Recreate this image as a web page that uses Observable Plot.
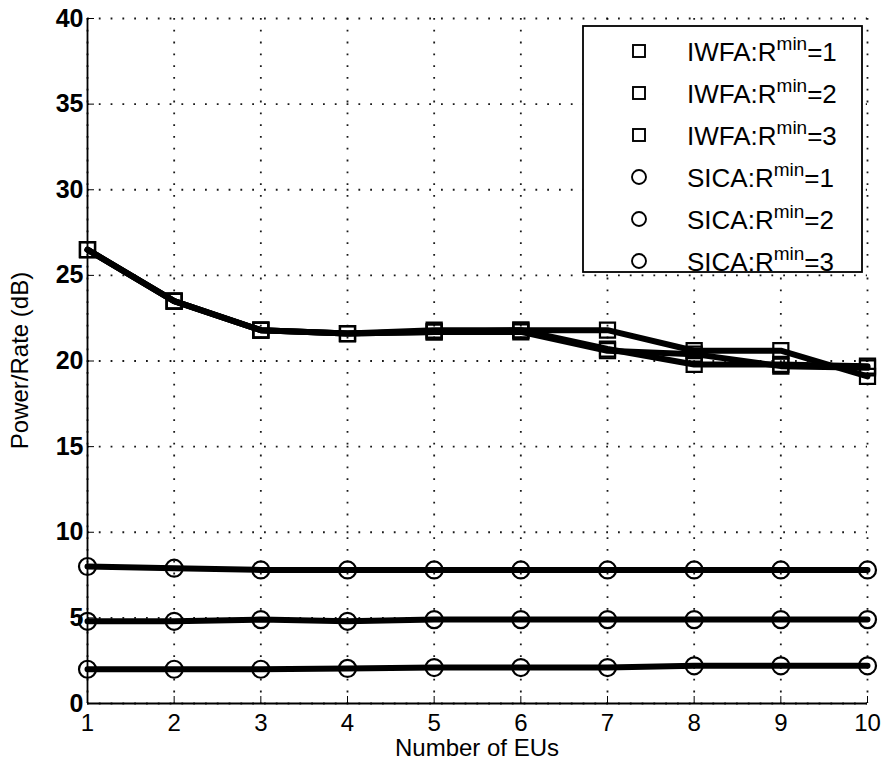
<!DOCTYPE html>
<html>
<head>
<meta charset="utf-8">
<script src="https://cdn.jsdelivr.net/npm/d3@7"></script>
<script src="https://cdn.jsdelivr.net/npm/@observablehq/plot@0.6"></script>
<style>
  html, body { margin: 0; padding: 0; background: #fff; }
  #chart svg { display: block; }
</style>
</head>
<body>
<div id="chart"></div>
<script>
// Number of EUs on the x axis
const eus = [1, 2, 3, 4, 5, 6, 7, 8, 9, 10];

// Power/Rate (dB) for IWFA at each minimum rate
const iwfa1 = [26.5, 23.5, 21.8, 21.6, 21.7, 21.8, 21.8, 20.6, 20.6, 19.1];
const iwfa2 = [26.5, 23.5, 21.8, 21.6, 21.8, 21.8, 20.7, 19.8, 19.8, 19.7];
const iwfa3 = [26.5, 23.5, 21.8, 21.6, 21.7, 21.7, 20.6, 20.4, 19.7, 19.6];

// Power/Rate (dB) for SICA at each minimum rate
const sica1 = [2.0, 2.0, 2.0, 2.05, 2.1, 2.1, 2.1, 2.2, 2.2, 2.2];
const sica2 = [4.8, 4.8, 4.9, 4.8, 4.9, 4.9, 4.9, 4.9, 4.9, 4.9];
const sica3 = [8.0, 7.9, 7.8, 7.8, 7.8, 7.8, 7.8, 7.8, 7.8, 7.8];

const xTicks = [1, 2, 3, 4, 5, 6, 7, 8, 9, 10];
const yTicks = [0, 5, 10, 15, 20, 25, 30, 35, 40];

const seriesList = [
  {algo: "IWFA", rmin: 1, values: iwfa1, symbol: "square"},
  {algo: "IWFA", rmin: 2, values: iwfa2, symbol: "square"},
  {algo: "IWFA", rmin: 3, values: iwfa3, symbol: "square"},
  {algo: "SICA", rmin: 1, values: sica1, symbol: "circle"},
  {algo: "SICA", rmin: 2, values: sica2, symbol: "circle"},
  {algo: "SICA", rmin: 3, values: sica3, symbol: "circle"}
];

const rows = seriesList.flatMap(s =>
  s.values.map((v, i) => ({x: eus[i], y: v, key: `${s.algo}${s.rmin}`, symbol: s.symbol}))
);

const font = "'Liberation Sans', Arial, Helvetica, sans-serif";
const W = 881, H = 772;

const plot = Plot.plot({
  width: W,
  height: H,
  marginLeft: 87,
  marginRight: 14,
  marginTop: 18,
  marginBottom: 69,
  style: {fontFamily: font, background: "#fff", color: "#000"},
  x: {domain: [1, 10], ticks: xTicks},
  y: {domain: [0, 40], ticks: yTicks},
  marks: [
    // dotted grid
    Plot.gridX(xTicks, {stroke: "#000", strokeOpacity: 0.9, strokeWidth: 1.8, strokeDasharray: "1.8,10"}),
    Plot.gridY(yTicks, {stroke: "#000", strokeOpacity: 0.9, strokeWidth: 1.8, strokeDasharray: "1.8,10"}),
    // solid left and bottom axis lines
    Plot.ruleX([1], {stroke: "#000", strokeWidth: 1.8}),
    Plot.ruleY([0], {stroke: "#000", strokeWidth: 1.8}),
    // inward ticks and labels
    Plot.axisX(xTicks, {tickSize: -7, tickPadding: 17, fontSize: 24, label: null, stroke: "#000"}),
    Plot.axisY(yTicks, {tickSize: -7, tickPadding: 11, fontSize: 25, fontWeight: "bold", label: null, stroke: "#000"}),
    // series lines
    Plot.line(rows, {x: "x", y: "y", z: "key", stroke: "#000", strokeWidth: 6, strokeLinejoin: "round"}),
    // markers
    Plot.dot(rows.filter(d => d.symbol === "square"), {x: "x", y: "y", symbol: "square", r: 8.5, stroke: "#000", strokeWidth: 2.2, fill: "none"}),
    Plot.dot(rows.filter(d => d.symbol === "circle"), {x: "x", y: "y", symbol: "circle", r: 8.5, stroke: "#000", strokeWidth: 2.2, fill: "none"})
  ]
});

const svg = d3.select(plot);

// axis titles
svg.append("text")
  .attr("x", 87 + (W - 87 - 14) / 2)
  .attr("y", 756)
  .attr("text-anchor", "middle")
  .attr("font-family", font)
  .attr("font-size", 24)
  .text("Number of EUs");

svg.append("text")
  .attr("transform", `translate(28, ${18 + (H - 18 - 69) / 2}) rotate(-90)`)
  .attr("text-anchor", "middle")
  .attr("font-family", font)
  .attr("font-size", 24)
  .text("Power/Rate (dB)");

// legend
const lg = svg.append("g").attr("font-family", font).attr("text-anchor", "start");
lg.append("rect")
  .attr("x", 583).attr("y", 26)
  .attr("width", 279).attr("height", 246)
  .attr("fill", "#fff").attr("stroke", "#000").attr("stroke-width", 1.8);

seriesList.forEach((s, i) => {
  const cy = 51 + i * 42;
  if (s.symbol === "square") {
    lg.append("rect")
      .attr("x", 633).attr("y", cy - 6)
      .attr("width", 12).attr("height", 12)
      .attr("fill", "none").attr("stroke", "#000").attr("stroke-width", 1.9);
  } else {
    lg.append("circle")
      .attr("cx", 639).attr("cy", cy)
      .attr("r", 7)
      .attr("fill", "none").attr("stroke", "#000").attr("stroke-width", 1.9);
  }
  const t = lg.append("text")
    .attr("x", 687).attr("y", cy + 10)
    .attr("text-anchor", "start")
    .attr("font-size", 26);
  t.append("tspan").text(`${s.algo}:R`);
  t.append("tspan").attr("dy", -11).attr("font-size", 19).text("min");
  t.append("tspan").attr("dy", 11).text(`=${s.rmin}`);
});

document.getElementById("chart").appendChild(plot);
</script>
</body>
</html>
